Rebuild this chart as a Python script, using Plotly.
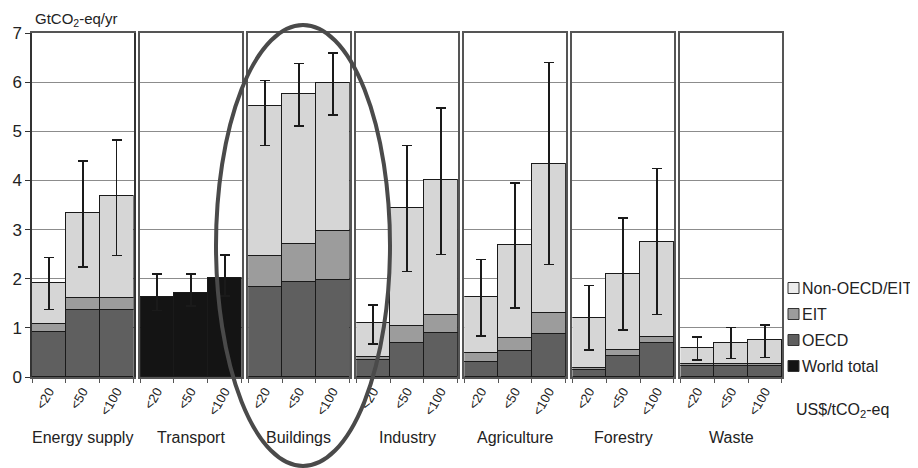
import plotly.graph_objects as go
from plotly.subplots import make_subplots

sectors = ["Energy supply", "Transport", "Buildings", "Industry", "Agriculture", "Forestry", "Waste"]
prices = ["<20", "<50", "<100"]

# segment sizes (GtCO2-eq/yr), one list of 3 per sector; None where not shown
oecd = [[0.92, 1.37, 1.37], None, [1.84, 1.93, 1.98], [0.35, 0.69, 0.89],
        [0.31, 0.52, 0.88], [0.14, 0.43, 0.69], [0.22, 0.22, 0.22]]
eit = [[0.16, 0.24, 0.24], None, [0.63, 0.78, 1.00], [0.06, 0.34, 0.38],
       [0.17, 0.27, 0.42], [0.05, 0.11, 0.13], [0.05, 0.05, 0.05]]
non_oecd_eit = [[0.83, 1.72, 2.07], None, [3.05, 3.04, 3.01], [0.69, 2.41, 2.74],
                [1.15, 1.89, 3.04], [1.02, 1.56, 1.93], [0.32, 0.42, 0.49]]
world_total = [None, [1.63, 1.71, 2.01], None, None, None, None, None]

# uncertainty range (low / high) of the sector total
err_low = [[1.37, 2.24, 2.47], [1.35, 1.45, 1.65], [4.71, 5.11, 5.33], [0.67, 2.15, 2.49],
           [0.84, 1.41, 2.29], [0.55, 0.96, 1.27], [0.35, 0.38, 0.40]]
err_high = [[2.43, 4.39, 4.82], [2.10, 2.10, 2.48], [6.03, 6.38, 6.59], [1.47, 4.71, 5.48],
            [2.39, 3.95, 6.40], [1.86, 3.24, 4.24], [0.82, 1.01, 1.06]]

series_names = ["OECD", "EIT", "Non-OECD/EIT", "World total"]
series_data = [oecd, eit, non_oecd_eit, world_total]
series_colors = ["#5f5f5f", "#9c9c9c", "#d6d6d6", "#141414"]
legend_order = ["Non-OECD/EIT", "EIT", "OECD", "World total"]

# layout geometry: the page places the figure 8 px in from the top-left corner
OFF = 8
W, H = 918 - OFF, 468 - OFF
X0, X1, Y0, Y1 = 32, 782, 33, 377          # plot area in screen pixels
L, T = X0 - OFF, Y0 - OFF
R, B = W - (X1 - OFF), H - (Y1 - OFF)
PW, PH = X1 - X0, Y1 - Y0

def px_x(p):
    return (p - X0) / PW

def px_y(p):
    return (Y1 - p) / PH

spacing = 6.5 / PW
fig = make_subplots(rows=1, cols=7, shared_yaxes=True, horizontal_spacing=spacing)

for i, sec in enumerate(sectors):
    col = i + 1
    present = [k for k in range(4) if series_data[k][i] is not None]
    totals = [sum(series_data[k][i][n] for k in present) for n in range(3)]
    for j, k in enumerate(present):
        top = j == len(present) - 1
        err = None
        if top:
            err = dict(type="data", symmetric=False,
                       array=[h - t for h, t in zip(err_high[i], totals)],
                       arrayminus=[t - l for t, l in zip(totals, err_low[i])],
                       color="#1a1a1a", thickness=1.6, width=5)
        fig.add_trace(go.Bar(
            x=prices, y=series_data[k][i], name=series_names[k],
            legendgroup=series_names[k], showlegend=False,
            marker=dict(color=series_colors[k], line=dict(color="#1a1a1a", width=1.4)),
            error_y=err, hoverinfo="x+y+name"), row=1, col=col)

for i in range(7):
    col = i + 1
    fig.update_xaxes(row=1, col=col, type="category", range=[-0.5, 2.5],
                     showline=True, mirror=True, linecolor="#555", linewidth=1.5,
                     ticks="outside", tickson="boundaries", ticklen=4, tickcolor="#555",
                     tickangle=-60, tickfont=dict(size=13, color="#222"),
                     showgrid=False, fixedrange=True)
    fig.update_yaxes(row=1, col=col, range=[0, 7], dtick=1, showgrid=True,
                     gridcolor="#8c8c8c", gridwidth=1.2,
                     showline=True, mirror=True, linecolor="#555", linewidth=1.5,
                     zeroline=False, fixedrange=True)
fig.update_yaxes(row=1, col=1, ticks="outside", ticklen=5, tickcolor="#333",
                 tickfont=dict(size=17, color="#222"), linecolor="#333")

annotations = []
for i, sec in enumerate(sectors):
    dom = fig.layout["xaxis" if i == 0 else f"xaxis{i+1}"].domain
    annotations.append(dict(text=sec, x=(dom[0] + dom[1]) / 2, y=px_y(437),
                            xref="paper", yref="paper", showarrow=False,
                            xanchor="center", yanchor="middle",
                            font=dict(size=16, color="#222")))
annotations.append(dict(text="GtCO<sub>2</sub>-eq/yr", x=px_x(33), y=px_y(20),
                        xref="paper", yref="paper", showarrow=False,
                        xanchor="left", yanchor="middle", font=dict(size=15, color="#222")))
annotations.append(dict(text="US$/tCO<sub>2</sub>-eq", x=px_x(842), y=px_y(410),
                        xref="paper", yref="paper", showarrow=False,
                        xanchor="center", yanchor="middle", font=dict(size=16, color="#222")))

shapes = [dict(type="circle", xref="paper", yref="paper",
               x0=px_x(216), x1=px_x(390), y0=px_y(466), y1=px_y(25),
               line=dict(color="#4a4a4a", width=4))]

# legend (drawn as key squares + labels)
legend_rows = [288, 314, 340, 366]
for name, ry in zip(legend_order, legend_rows):
    color = series_colors[series_names.index(name)]
    shapes.append(dict(type="rect", xref="paper", yref="paper",
                       x0=px_x(788), x1=px_x(799), y0=px_y(ry + 5.5), y1=px_y(ry - 5.5),
                       fillcolor=color if name != "Non-OECD/EIT" else "#ececec",
                       line=dict(color="#333", width=1)))
    annotations.append(dict(text=name, x=px_x(800), y=px_y(ry), xref="paper", yref="paper",
                            showarrow=False, xanchor="left", yanchor="middle",
                            font=dict(size=16, color="#222")))

fig.update_layout(
    width=W, height=H,
    margin=dict(l=L, r=R, t=T, b=B, autoexpand=False),
    barmode="stack", bargap=0, showlegend=False,
    paper_bgcolor="white", plot_bgcolor="white",
    font=dict(family="Liberation Sans, Arial, sans-serif", color="#222"),
    annotations=annotations,
    shapes=shapes,
)

fig.write_html("out.html")
